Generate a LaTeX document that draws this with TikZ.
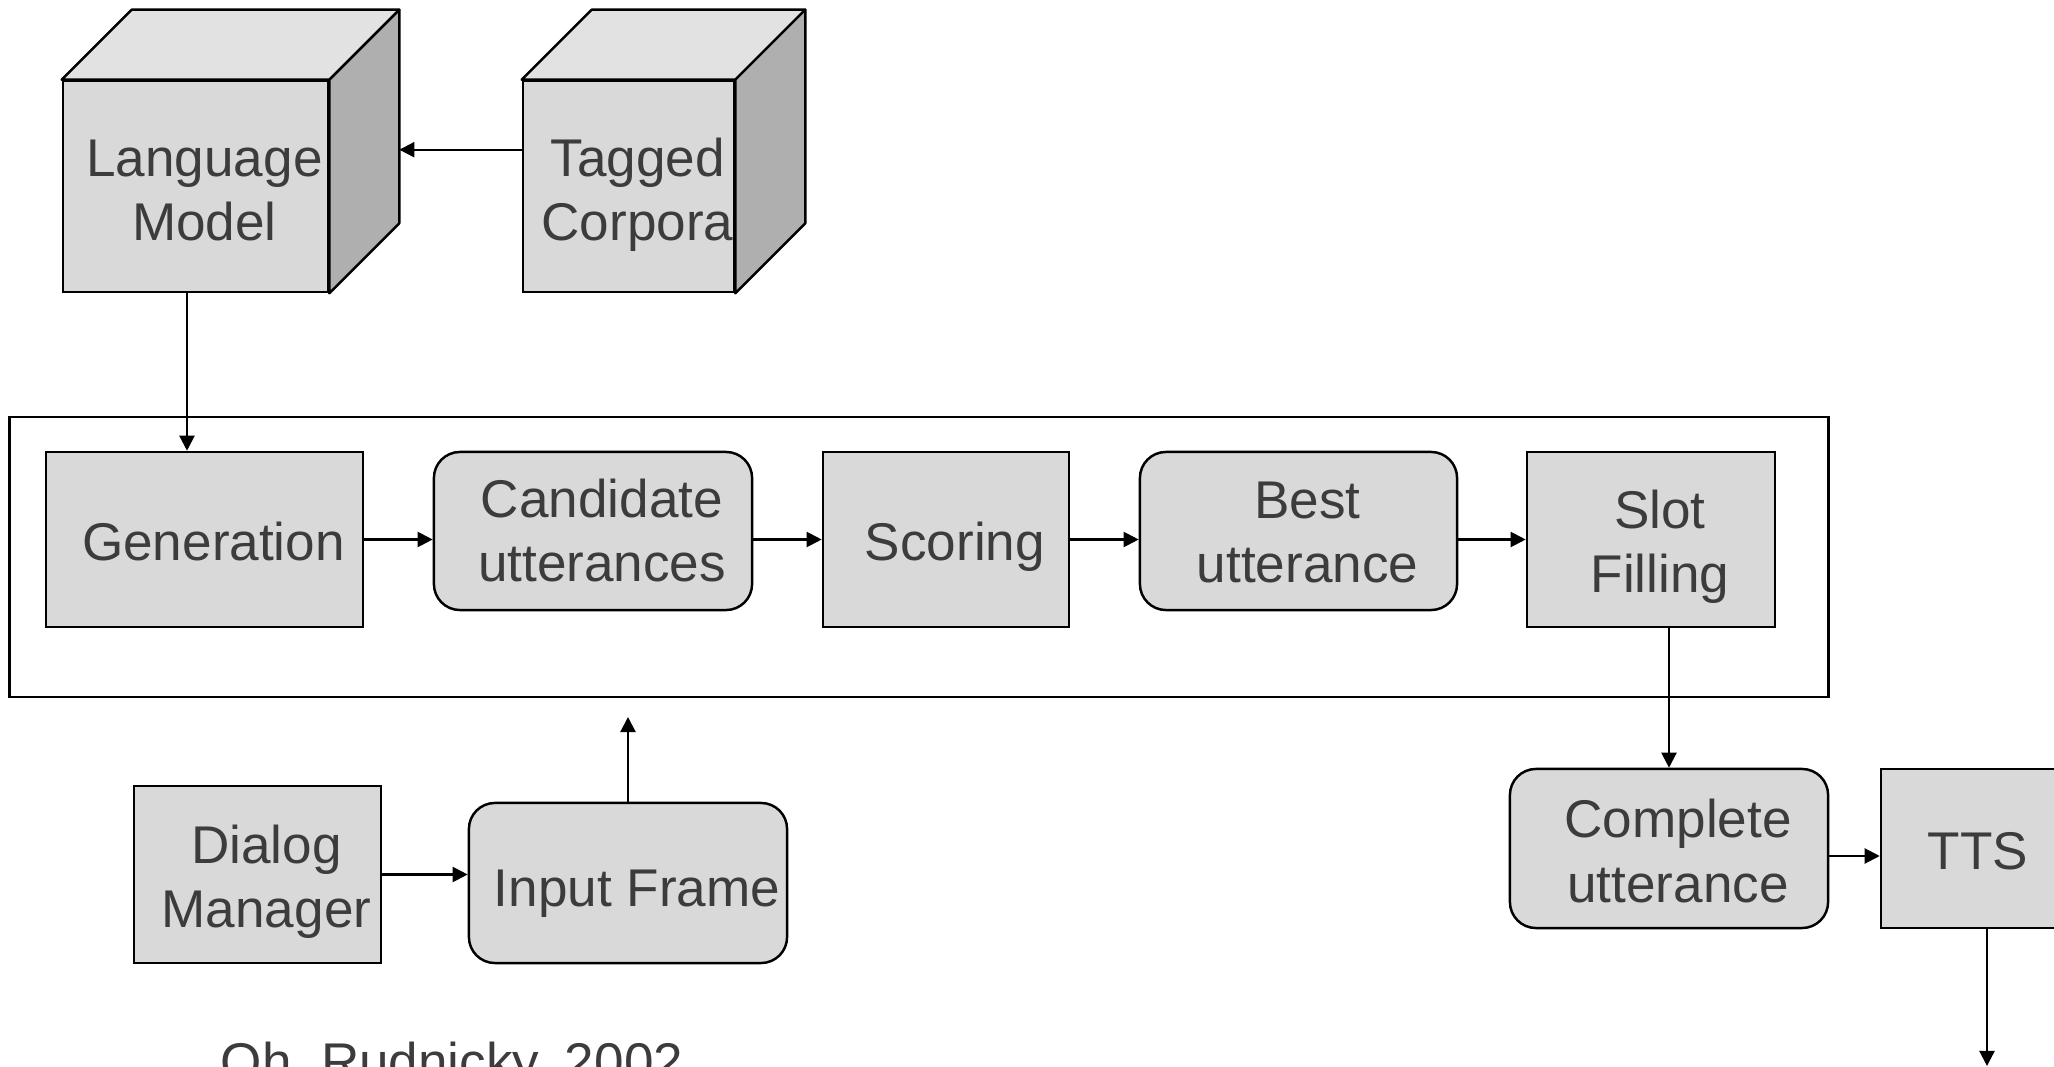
\documentclass[tikz,border=0pt]{standalone}
\usepackage{fontspec}
\setmainfont{Liberation Sans}
\usetikzlibrary{arrows.meta,calc}
\definecolor{facegray}{HTML}{D9D9D9}
\definecolor{topgray}{HTML}{E2E2E2}
\definecolor{sidegray}{HTML}{AFAFAF}
\definecolor{inkgray}{HTML}{3C3C3C}

\begin{document}
\begin{tikzpicture}[x=0.01cm,y=-0.01cm,
  font=\fontsize{15.1pt}{18.2pt}\selectfont,
  box/.style={draw=black, fill=facegray, line width=0.7pt, inner sep=0pt},
  roundbox/.style={box, rounded corners=0.26cm},
  cubetop/.style={draw=black, fill=topgray, line width=0.7pt, line join=round},
  cubeside/.style={draw=black, fill=sidegray, line width=0.7pt, line join=round},
  txt/.style={text=inkgray, align=center, inner sep=0pt, anchor=base},
  frame/.style={draw=black, line width=0.65pt, inner sep=0pt},
  arr/.style={draw=black, line width=0.6pt, -{Triangle[length=0.15cm,width=0.15cm]}}]

\useasboundingbox (0,0) rectangle (2054,1067);
\clip (0,0) rectangle (2054,1067);

% surrounding frame of the generation pipeline
\node[frame, minimum width=18.18cm, minimum height=2.80cm] (frame) at (919,557) {};

% knowledge sources drawn as cubes (text anchored at its last baseline)
\node[box, minimum width=2.65cm, minimum height=2.11cm] (lm) at (195.5,186.5) {};
\path[cubetop] (lm.north west) -- ++(70,-70) -- ($(lm.north east)+(70,-70)$) -- (lm.north east) -- cycle;
\path[cubeside] (lm.north east) -- ++(70,-70) -- ($(lm.south east)+(70,-70)$) -- (lm.south east) -- cycle;
\node[txt] (lm-t) at ($(lm.center)+(9,54)$) {Language\\Model};

\node[box, minimum width=2.11cm, minimum height=2.11cm] (tc) at (628.5,186.5) {};
\path[cubetop] (tc.north west) -- ++(70,-70) -- ($(tc.north east)+(70,-70)$) -- (tc.north east) -- cycle;
\path[cubeside] (tc.north east) -- ++(70,-70) -- ($(tc.south east)+(70,-70)$) -- (tc.south east) -- cycle;
\node[txt] (tc-t) at ($(tc.center)+(9,54)$) {Tagged\\Corpora};

% pipeline stages
\node[box, minimum width=3.17cm, minimum height=1.75cm] (gen) at (204.5,539.5) {};
\node[txt] (gen-t) at ($(gen.center)+(9,21)$) {Generation};
\node[roundbox, minimum width=3.18cm, minimum height=1.58cm] (cand) at (593,531) {};
\node[txt] (cand-t) at ($(cand.center)+(9,51)$) {Candidate\\utterances};
\node[box, minimum width=2.46cm, minimum height=1.75cm] (scor) at (946,539.5) {};
\node[txt] (scor-t) at ($(scor.center)+(9,21)$) {Scoring};
\node[roundbox, minimum width=3.17cm, minimum height=1.58cm] (best) at (1298.5,531) {};
\node[txt] (best-t) at ($(best.center)+(9,52)$) {Best\\utterance};
\node[box, minimum width=2.48cm, minimum height=1.75cm] (slot) at (1651,539.5) {};
\node[txt] (slot-t) at ($(slot.center)+(9,53)$) {Slot\\Filling};

% output side
\node[roundbox, minimum width=3.18cm, minimum height=1.59cm] (comp) at (1669,848.5) {};
\node[txt] (comp-t) at ($(comp.center)+(9,53.5)$) {Complete\\utterance};
\node[box, minimum width=1.76cm, minimum height=1.59cm] (tts) at (1969,848.5) {};
\node[txt] (tts-t) at ($(tts.center)+(9,21)$) {TTS};
\coordinate (speech) at (1987,1066);

% input side
\node[box, minimum width=2.47cm, minimum height=1.77cm] (dm) at (257.5,874.5) {};
\node[txt] (dm-t) at ($(dm.center)+(9,53)$) {Dialog\\Manager};
\node[roundbox, minimum width=3.18cm, minimum height=1.60cm] (inp) at (628,883) {};
\node[txt] (inp-t) at ($(inp.center)+(9,23)$) {Input Frame};
\coordinate (inpout) at (628,717);

\node[txt, anchor=base west] (cite) at (220,1080) {Oh, Rudnicky, 2002};

% connectors
\coordinate (lmback) at ($(lm.north east)+(70,70)$);
\draw[arr] (lmback -| tc.west) -- (lmback);
\coordinate (lmout) at ([xshift=-0.085cm]lm.south);
\draw[arr] (lmout) -- (lmout |- gen.north);
\draw[arr] (gen.east) -- (gen.east -| cand.west);
\draw[arr] (scor.west -| cand.east) -- (scor.west);
\draw[arr] (scor.east) -- (scor.east -| best.west);
\draw[arr] (slot.west -| best.east) -- (slot.west);
\draw[arr] (slot.south -| comp.north) -- (comp.north);
\draw[arr] ([yshift=-0.075cm]comp.east) -- ([yshift=-0.075cm]comp.east -| tts.west);
\draw[arr] (tts.south -| speech) -- (speech);
\draw[arr] (dm.east) -- (dm.east -| inp.west);
\draw[arr] (inp.north) -- (inpout);
\end{tikzpicture}
\end{document}
